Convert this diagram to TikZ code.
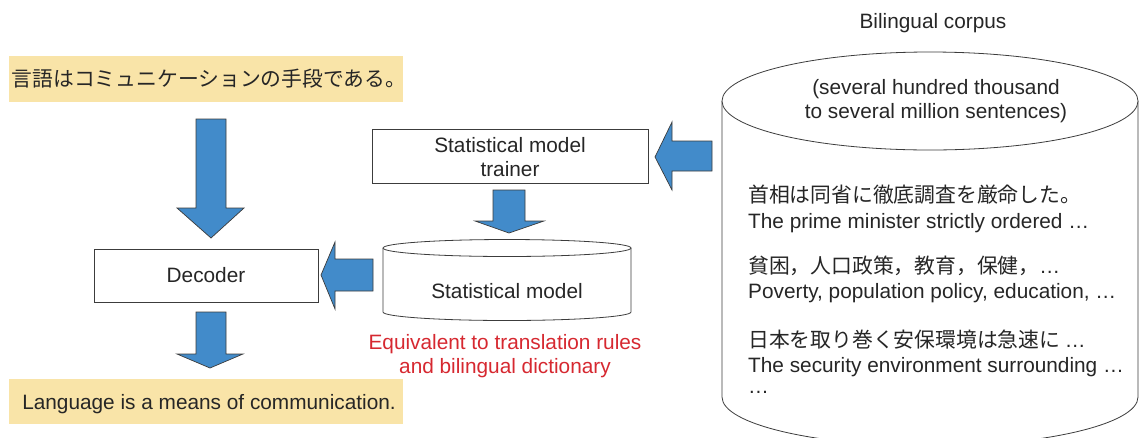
\documentclass[tikz,border=0pt]{standalone}
\usepackage{fontspec}
\setmainfont{Liberation Sans}
\newfontfamily\cjk{Noto Sans CJK JP}
\definecolor{arrowblue}{RGB}{66,139,202}
\definecolor{lightyellow}{RGB}{249,228,168}
\definecolor{labelred}{RGB}{214,40,48}
\definecolor{edgegray}{RGB}{60,60,60}
\tikzset{
  blockarrow/.style={fill=arrowblue, draw=edgegray, line width=0.7pt, line join=miter},
  plainbox/.style={draw=edgegray, line width=0.8pt, fill=white},
  yellowbox/.style={fill=lightyellow, draw=none},
  txt/.style={inner sep=0pt, font=\fontsize{20.8}{24}\selectfont, text=black!85},
}
\begin{document}
\begin{tikzpicture}[x=1pt,y=1pt]
\useasboundingbox (0,0) rectangle (1139,-437);
\begin{scope}
\clip (0,0) rectangle (1139,-437);

% yellow boxes
\fill[yellowbox] (9,-56) rectangle (403,-102);
\node[txt] (src) at (209,-79) {\cjk 言語はコミュニケーションの手段である。};
\fill[yellowbox] (9,-379) rectangle (403,-424);
\node[txt] (tgt) at (209,-404) {Language is a means of communication.};

% decoder
\draw[plainbox] (94,-249) rectangle (318,-302);
\node[txt] (dec) at (206,-275) {Decoder};

% trainer
\draw[plainbox] (372,-129) rectangle (648,-183);
\node[txt, align=center] (trainer) at (510,-157) {Statistical model\\trainer};

% statistical model cylinder
\draw[plainbox] (383,-248) -- (383,-312) arc[start angle=180, end angle=360, x radius=124, y radius=8.5] -- (631,-248);
\draw[plainbox] (507,-248) ellipse [x radius=124, y radius=8.5];
\node[txt] (model) at (507,-291) {Statistical model};

\node[txt, align=center, text=labelred] (equiv) at (505,-356) {Equivalent to translation rules\\and bilingual dictionary};

% corpus cylinder
\draw[plainbox] (722,-101) -- (722,-397) arc[start angle=180, end angle=360, x radius=208, y radius=49] -- (1138,-101);
\draw[plainbox] (930,-101) ellipse [x radius=208, y radius=49];
\node[txt] (corpuslabel) at (933,-23) {Bilingual corpus};
\node[txt, align=center] (size) at (936,-101) {(several hundred thousand\\to several million sentences)};

\node[txt, anchor=base west] (j1) at (748,-202) {\cjk 首相は同省に徹底調査を厳命した。};
\node[txt, anchor=base west] (e1) at (748,-228) {The prime minister strictly ordered …};
\node[txt, anchor=base west] (j2) at (748,-273) {\cjk 貧困，人口政策，教育，保健，\rmfamily …};
\node[txt, anchor=base west] (e2) at (748,-298) {Poverty, population policy, education, …};
\node[txt, anchor=base west] (j3) at (748,-347) {\cjk 日本を取り巻く安保環境は急速に \rmfamily…};
\node[txt, anchor=base west] (e3) at (748,-372) {The security environment surrounding …};
\node[txt, anchor=base west] (e4) at (748,-393) {…};

% block arrows
\draw[blockarrow] (196,-119) -- (226,-119) -- (226,-208) -- (244,-208) -- (211,-238) -- (177,-208) -- (196,-208) -- cycle;
\draw[blockarrow] (196,-312) -- (226,-312) -- (226,-354) -- (243,-354) -- (210,-368) -- (177,-354) -- (196,-354) -- cycle;
\draw[blockarrow] (493,-190) -- (525,-190) -- (525,-221) -- (544,-221) -- (509,-233) -- (475,-221) -- (493,-221) -- cycle;
\draw[blockarrow] (373,-259) -- (335,-259) -- (335,-242) -- (321,-275) -- (335,-309) -- (335,-291) -- (373,-291) -- cycle;
\draw[blockarrow] (712,-141) -- (672,-141) -- (672,-122) -- (655,-157) -- (672,-190) -- (672,-171) -- (712,-171) -- cycle;
\end{scope}
\end{tikzpicture}
\end{document}
